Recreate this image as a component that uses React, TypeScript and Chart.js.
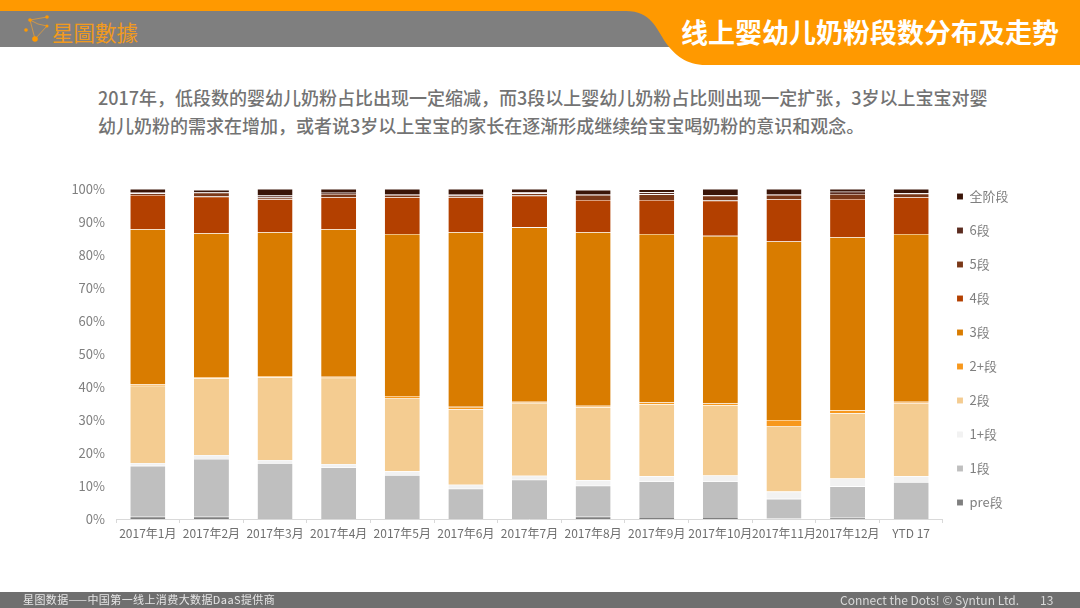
import { useEffect, useRef } from 'react';
import { Chart, registerables } from 'chart.js';

Chart.register(...registerables);

const months = ['2017年1月', '2017年2月', '2017年3月', '2017年4月', '2017年5月', '2017年6月', '2017年7月', '2017年8月', '2017年9月', '2017年10月', '2017年11月', '2017年12月', 'YTD 17'];

const pre = [0.7, 0.7, 0.3, 0.3, 0.3, 0.3, 0.3, 0.7, 0.6, 0.6, 0.2, 0.4, 0.3];
const duan1 = [15.4, 17.5, 16.6, 15.3, 13.0, 8.9, 11.6, 9.4, 10.8, 10.8, 5.9, 9.5, 10.9];
const duan1p = [0.9, 1.2, 1.0, 1.1, 1.2, 1.2, 1.2, 1.7, 1.6, 1.8, 2.2, 2.4, 1.8];
const duan2 = [23.4, 23.3, 25.1, 26.1, 22.2, 22.9, 22.1, 22.1, 21.8, 21.3, 19.9, 19.8, 22.0];
const duan2p = [0.5, 0.3, 0.3, 0.3, 0.6, 0.7, 0.3, 0.4, 0.5, 0.5, 1.8, 0.9, 0.5];
const duan3 = [46.9, 43.6, 43.6, 44.7, 49.1, 52.9, 52.9, 52.6, 51.1, 50.8, 54.1, 52.4, 50.9];
const duan4 = [10.4, 11.1, 10.0, 9.7, 11.1, 10.6, 9.6, 9.8, 10.3, 10.7, 12.8, 11.6, 11.1];
const duan5 = [0.5, 1.2, 0.5, 1.0, 0.7, 0.5, 0.7, 1.5, 1.7, 1.5, 1.3, 1.5, 1.1];
const duan6 = [0.4, 0.1, 0.6, 0.4, 0.2, 0.5, 0.3, 0.2, 0.6, 0.2, 0.2, 0.7, 0.1];
const quan = [0.9, 0.7, 2.0, 1.1, 1.6, 1.5, 1.0, 1.3, 0.9, 1.8, 1.6, 0.8, 1.3];

const series = [
  { label: 'pre段', data: pre, color: '#7f7f7f' },
  { label: '1段', data: duan1, color: '#bfbfbf' },
  { label: '1+段', data: duan1p, color: '#f2f2f2' },
  { label: '2段', data: duan2, color: '#f4cc91' },
  { label: '2+段', data: duan2p, color: '#f7981d' },
  { label: '3段', data: duan3, color: '#d97c00' },
  { label: '4段', data: duan4, color: '#b34000' },
  { label: '5段', data: duan5, color: '#7a3818' },
  { label: '6段', data: duan6, color: '#5b2c20' },
  { label: '全阶段', data: quan, color: '#3a1508' },
];

const font = '"Noto Sans CJK SC", "Noto Sans", sans-serif';

const text = (
  left: number,
  top: number,
  size: number,
  color: string,
  extra: React.CSSProperties = {},
): React.CSSProperties => ({
  position: 'absolute',
  left,
  top,
  fontSize: size,
  lineHeight: `${size + 4}px`,
  color,
  fontFamily: font,
  whiteSpace: 'nowrap',
  ...extra,
});

export default function App() {
  const canvasRef = useRef<HTMLCanvasElement>(null);

  useEffect(() => {
    const chart = new Chart(canvasRef.current!, {
      type: 'bar',
      data: {
        labels: months,
        datasets: series.map((s) => ({
          label: s.label,
          data: s.data,
          backgroundColor: s.color,
          borderColor: 'rgba(255, 255, 255, 0.75)',
          borderWidth: { top: 0.6 },
          borderSkipped: false,
          barPercentage: 0.55,
          categoryPercentage: 1,
        })),
      },
      options: {
        responsive: false,
        animation: false,
        layout: { padding: { left: 0, top: 189, right: 54.5, bottom: 0 } },
        plugins: {
          tooltip: { enabled: false },
          legend: {
            position: 'right',
            align: 'start',
            reverse: true,
            labels: {
              boxWidth: 6,
              boxHeight: 6,
              padding: 21,
              color: '#7f7f7f',
              font: { family: font, size: 13 },
            },
          },
        },
        scales: {
          x: {
            stacked: true,
            afterFit: (s) => {
              s.height = 89;
            },
            grid: { drawOnChartArea: false, color: '#d9d9d9', tickLength: 4 },
            border: { color: '#d9d9d9' },
            ticks: {
              autoSkip: false,
              maxRotation: 0,
              padding: 3,
              color: '#6f6f6f',
              font: { family: font, size: 12 },
            },
          },
          y: {
            stacked: true,
            min: 0,
            max: 100,
            afterFit: (s) => {
              s.width = 116;
            },
            grid: { display: false },
            border: { display: false },
            ticks: {
              stepSize: 10,
              padding: 3,
              color: '#7f7f7f',
              font: { family: font, size: 13 },
              callback: (v) => `${v}%`,
            },
          },
        },
      },
      plugins: [
        {
          id: 'legendNudge',
          afterLayout: (c) => {
            c.legend!.left -= 7;
            c.legend!.top -= 20;
          },
        },
      ],
    });
    return () => chart.destroy();
  }, []);

  return (
    <div style={{ position: 'fixed', left: 0, top: 0, width: 1080, height: 608, background: '#fff', overflow: 'hidden' }}>
      <svg width={1080} height={608} style={{ position: 'absolute', left: 0, top: 0 }}>
        <rect x={0} y={11} width={700} height={36} fill="#7f7f7f" />
        <path d="M0 0H1080V65H706C686 65 675 55 666 43C656 28 651 11 626 11H0Z" fill="#ff9900" />
        <rect x={0} y={592} width={1080} height={16} fill="#6f6f6f" />
        <g stroke="#f0a030" strokeWidth={0.7}>
          <path d="M35 39L30 20L47 17M35 39L47 26M38 24L30 20M38 24L47 26" fill="none" />
        </g>
        <g fill="#ff9900">
          <circle cx={35} cy={39} r={2.8} />
          <circle cx={30} cy={20} r={1.8} />
          <circle cx={47} cy={17} r={1.8} />
          <circle cx={47} cy={26} r={1.5} />
          <circle cx={26} cy={30} r={1.8} />
        </g>
      </svg>
      <div style={text(52, 19, 21.5, '#f09a20', { fontFamily: '"Noto Sans CJK TC", sans-serif' })}>星圖數據</div>
      <div style={text(681, 16, 27, '#fff', { fontWeight: 700 })}>线上婴幼儿奶粉段数分布及走势</div>
      <div style={text(98, 86, 18, '#737373', { fontWeight: 500 })}>
        2017年，低段数的婴幼儿奶粉占比出现一定缩减，而3段以上婴幼儿奶粉占比则出现一定扩张，3岁以上宝宝对婴
      </div>
      <div style={text(98, 114, 18, '#737373', { fontWeight: 500 })}>
        幼儿奶粉的需求在增加，或者说3岁以上宝宝的家长在逐渐形成继续给宝宝喝奶粉的意识和观念。
      </div>
      <canvas ref={canvasRef} width={1080} height={608} style={{ position: 'absolute', left: 0, top: 0 }} />
      <div style={text(23, 592, 11, '#e6e6e6', { letterSpacing: 0.4 })}>星图数据——中国第一线上消费大数据DaaS提供商</div>
      <div style={text(840, 592, 12, '#d9d9d9')}>Connect the Dots! © Syntun Ltd.</div>
      <div style={text(1040, 592, 12, '#d9d9d9')}>13</div>
    </div>
  );
}
